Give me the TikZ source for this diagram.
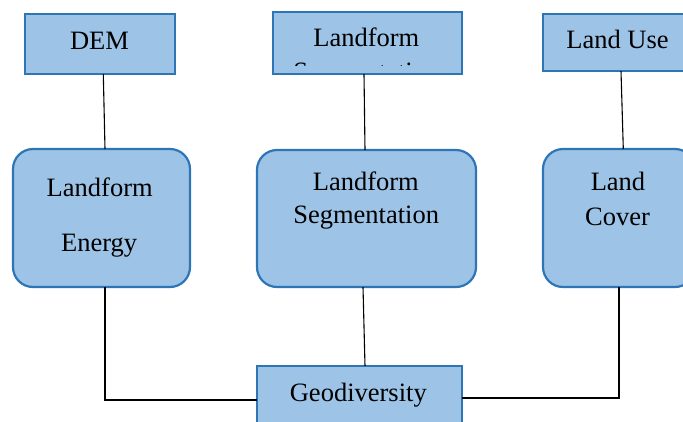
\documentclass[tikz,border=0pt]{standalone}
\usepackage{fontspec}
\setmainfont{Liberation Serif}
\definecolor{boxfill}{RGB}{157,195,230}
\definecolor{boxline}{RGB}{46,117,182}
\begin{document}
\begin{tikzpicture}[x=1pt,y=-1pt,
  sqbox/.style={rectangle, draw=boxline, fill=boxfill, line width=1.3pt, inner sep=0pt, outer sep=0pt},
  rbox/.style={sqbox, rounded corners=20pt, line width=2.2pt},
  lbl/.style={anchor=base, font=\fontsize{26.5}{30}\selectfont, inner sep=0pt},
  conn/.style={draw=black, line width=1.1pt}]
\useasboundingbox (0,0) rectangle (683,421);
\clip (0,0) rectangle (683,421);
% boxes
\node[sqbox, minimum width=150pt, minimum height=60pt] (dem) at (100,44) {};
\node[sqbox, minimum width=189pt, minimum height=62pt] (lsTop) at (367.5,43) {};
\node[sqbox, minimum width=157pt, minimum height=57pt] (lu) at (621.5,42.5) {};
\node[rbox, minimum width=177pt, minimum height=138pt] (le) at (101.5,218) {};
\node[rbox, minimum width=219pt, minimum height=137pt] (ls) at (366.5,218.5) {};
\node[rbox, minimum width=152pt, minimum height=138pt] (lc) at (619,218) {};
\node[sqbox, line width=2.2pt, minimum width=205pt, minimum height=74pt] (geo) at (359.5,403) {};
% texts
\node[lbl] (tDem) at (99.5,49.3) {DEM};
\node[lbl] (tLf1) at (366.3,46.7) {Landform};
\begin{scope}
  \clip (273,12) rectangle (462,65.5);
  \node[lbl] (tSeg1) at (366.3,80) {Segmentation};
\end{scope}
\node[lbl] (tLu) at (617.5,48.3) {Land Use};
\node[lbl] (tLe1) at (99.7,196) {Landform};
\node[lbl] (tLe2) at (99.2,251) {Energy};
\node[lbl] (tLs1) at (365.8,190.7) {Landform};
\node[lbl] (tLs2) at (366.2,223.3) {Segmentation};
\node[lbl] (tLc1) at (618,190.7) {Land};
\node[lbl] (tLc2) at (617.5,225) {Cover};
\node[lbl] (tGeo) at (358.3,401.7) {Geodiversity};
% connectors
\draw[conn] ([xshift=3.3pt]dem.south) -- ([xshift=3.5pt]le.north);
\draw[conn] ([xshift=-3.5pt]lsTop.south) -- ([xshift=-1.5pt]ls.north);
\draw[conn] ([xshift=-0.5pt]lu.south) -- ([xshift=4.3pt]lc.north);
\draw[conn] ([xshift=3.5pt]le.south) |- ([yshift=3pt]geo.west);
\draw[conn] ([xshift=-3.5pt]ls.south) -- ([xshift=5.5pt]geo.north);
\draw[conn] (lc.south) |- ([yshift=5pt]geo.east);
\end{tikzpicture}
\end{document}
